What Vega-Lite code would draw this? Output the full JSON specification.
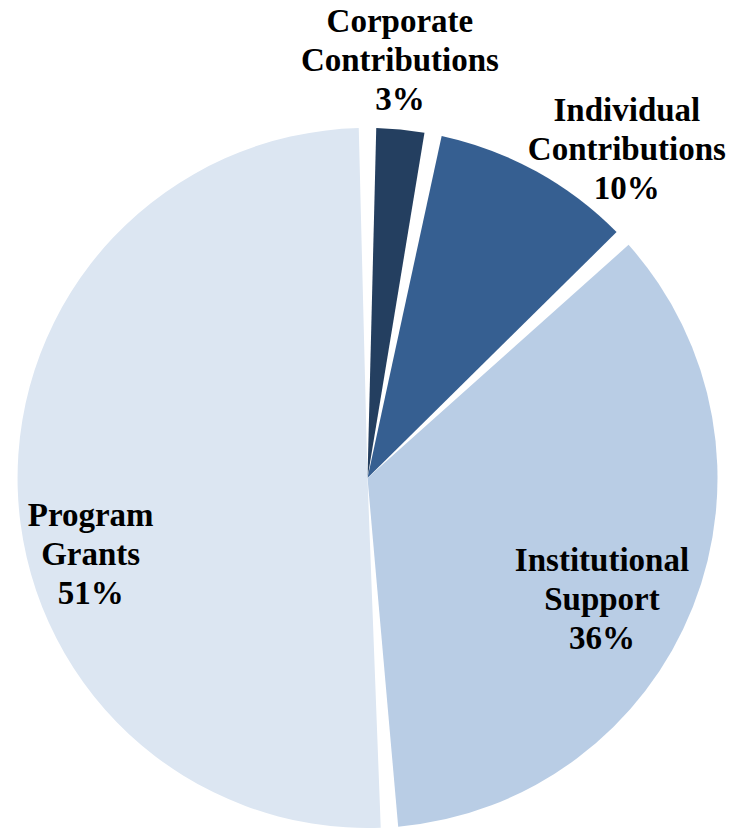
{
  "$schema": "https://vega.github.io/schema/vega-lite/v6.json",
  "width": 735,
  "height": 700,
  "autosize": {"type": "none"},
  "padding": {"top": 128, "left": 0, "right": 0, "bottom": 0},
  "background": "white",
  "config": {"view": {"stroke": null}},
  "data": {
    "values": [
      {"name": "Corporate Contributions", "value": 3, "label": "Corporate Contributions 3%"},
      {"name": "Individual Contributions", "value": 10, "label": "Individual Contributions 10%"},
      {"name": "Institutional Support", "value": 36, "label": "Institutional Support 36%"},
      {"name": "Program Grants", "value": 51, "label": "Program Grants 51%"}
    ]
  },
  "encoding": {
    "theta": {"field": "value", "type": "quantitative", "stack": true},
    "order": {"field": "name", "type": "nominal", "sort": "ascending"}
  },
  "layer": [
    {
      "mark": {"type": "arc", "radius": 350, "padAngle": 0.05},
      "encoding": {
        "color": {
          "field": "name",
          "type": "nominal",
          "scale": {
            "domain": ["Corporate Contributions", "Individual Contributions", "Institutional Support", "Program Grants"],
            "range": ["#243F60", "#365F91", "#B9CDE5", "#DCE6F2"]
          },
          "legend": null
        }
      }
    },
    {
      "mark": {"type": "text", "radius": 419, "dx": -7, "dy": -39, "font": "Liberation Serif", "fontWeight": "bold", "fontSize": 33, "lineHeight": 39, "lineBreak": " ", "fill": "black", "align": "center", "baseline": "middle"},
      "encoding": {
        "detail": {"field": "name", "type": "nominal"},
        "text": {"condition": {"test": "datum.name === 'Corporate Contributions'", "field": "label", "type": "nominal"}, "value": ""}
      }
    },
    {
      "mark": {"type": "text", "radius": 418, "dx": 58, "dy": -1, "font": "Liberation Serif", "fontWeight": "bold", "fontSize": 33, "lineHeight": 39, "lineBreak": " ", "fill": "black", "align": "center", "baseline": "middle"},
      "encoding": {
        "detail": {"field": "name", "type": "nominal"},
        "text": {"condition": {"test": "datum.name === 'Individual Contributions'", "field": "label", "type": "nominal"}, "value": ""}
      }
    },
    {
      "mark": {"type": "text", "radius": 264, "dx": -11, "dy": -14, "font": "Liberation Serif", "fontWeight": "bold", "fontSize": 33, "lineHeight": 39, "lineBreak": " ", "fill": "black", "align": "center", "baseline": "middle"},
      "encoding": {
        "detail": {"field": "name", "type": "nominal"},
        "text": {"condition": {"test": "datum.name === 'Institutional Support'", "field": "label", "type": "nominal"}, "value": ""}
      }
    },
    {
      "mark": {"type": "text", "radius": 287, "dx": 10, "dy": 29, "font": "Liberation Serif", "fontWeight": "bold", "fontSize": 33, "lineHeight": 39, "lineBreak": " ", "fill": "black", "align": "center", "baseline": "middle"},
      "encoding": {
        "detail": {"field": "name", "type": "nominal"},
        "text": {"condition": {"test": "datum.name === 'Program Grants'", "field": "label", "type": "nominal"}, "value": ""}
      }
    }
  ]
}
